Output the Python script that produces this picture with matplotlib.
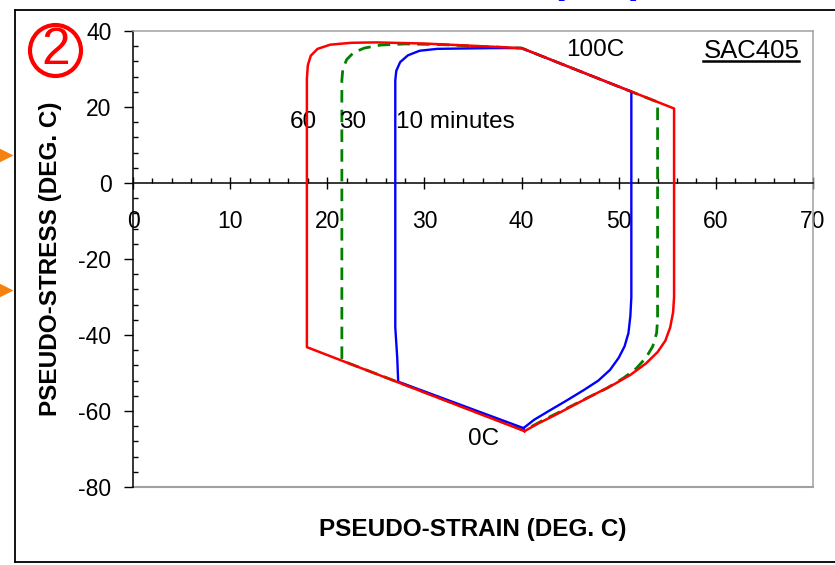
import numpy as np
import matplotlib
matplotlib.use("Agg")
from matplotlib import pyplot as plt
from matplotlib.lines import Line2D
from matplotlib.patches import Ellipse
from matplotlib.ticker import MultipleLocator

plt.rcParams['font.family'] = ['Liberation Sans', 'DejaVu Sans']
plt.rcParams['axes.unicode_minus'] = False

# hysteresis loops for the three dwell times (pseudo-strain, pseudo-stress)
red_x = [40.3, 17.9, 17.9, 18.0, 18.3, 19.0, 20.3, 22.5, 25.0, 30.0, 35.0, 40.0,
         55.7, 55.7, 55.6, 55.3, 54.8, 54.0, 52.8, 51.2, 49.5, 47.6, 45.5, 43.5, 41.7, 40.3]
red_y = [-65.3, -43.2, 27.5, 31.0, 33.5, 35.3, 36.4, 36.9, 37.0, 36.7, 36.1, 35.5,
         19.6, -30.0, -34.0, -38.0, -41.5, -44.5, -47.5, -50.5, -53.0, -55.5, -58.3, -61.0, -63.3, -65.3]

green_x = [40.3, 21.5, 21.5, 21.6, 22.0, 22.7, 23.8, 25.5, 28.0, 32.0, 36.0, 40.0,
           54.0, 54.0, 53.9, 53.5, 52.8, 51.8, 50.5, 48.8, 46.8, 44.5, 42.3, 40.3]
green_y = [-65.1, -46.75, 27.0, 30.0, 32.5, 34.3, 35.5, 36.3, 36.6, 36.4, 35.9, 35.5,
           21.3, -36.0, -39.5, -43.0, -46.0, -48.8, -51.3, -54.0, -56.5, -59.5, -62.3, -65.1]

blue_x = [40.2, 27.3, 27.2, 27.0, 27.0, 27.1, 27.5, 28.3, 29.5, 31.3, 34.0, 37.0, 40.0,
          51.3, 51.3, 51.2, 51.0, 50.6, 50.0, 49.1, 47.9, 46.4, 44.6, 42.8, 41.3, 40.2]
blue_y = [-64.5, -52.3, -46.0, -38.0, 27.0, 29.5, 31.8, 33.6, 34.8, 35.3, 35.4, 35.5, 35.5,
          24.05, -30.0, -35.0, -39.5, -43.0, -46.0, -49.2, -52.0, -54.5, -57.3, -60.0, -62.3, -64.5]

W, H = 835, 565
fig = plt.figure(figsize=(W / 100, H / 100), dpi=100)
ax = fig.add_axes([133 / W, 1 - 487 / H, 680 / W, 456 / H])

ax.plot(green_x, green_y, color='#008000', lw=2.0, linestyle=(0, (4.5, 2.6)), zorder=3)
ax.plot(blue_x, blue_y, color='#0000ff', lw=1.7, zorder=4)
ax.plot(red_x, red_y, color='#ff0000', lw=1.8, zorder=5)

ax.set_xlim(0, 70)
ax.set_ylim(-80, 40)

# frame: black y axis, x axis through zero, grey box
gray = '#a0a0a0'
ax.spines['bottom'].set_position(('data', 0))
ax.spines['bottom'].set_color('black')
ax.spines['left'].set_color('black')
ax.spines['top'].set_color(gray)
ax.spines['right'].set_color(gray)
for s in ax.spines.values():
    s.set_linewidth(1.1)
ax.axhline(-80, color=gray, lw=1.5, clip_on=False, zorder=1)

ax.xaxis.set_major_locator(MultipleLocator(10))
ax.xaxis.set_minor_locator(MultipleLocator(2))
ax.yaxis.set_major_locator(MultipleLocator(20))
ax.yaxis.set_minor_locator(MultipleLocator(4))
ax.tick_params(axis='x', which='major', direction='inout', length=8.5, width=1, pad=15, labelsize=16.5)
ax.tick_params(axis='x', which='minor', direction='in', length=3.6, width=1)
ax.tick_params(axis='y', which='major', direction='out', length=6.5, width=1, pad=9, labelsize=16.5)
ax.tick_params(axis='y', which='minor', direction='in', length=3.6, width=1)

ax.set_xlabel('PSEUDO-STRAIN (DEG. C)', fontsize=17.5, fontweight='bold')
ax.set_ylabel('PSEUDO-STRESS (DEG. C)', fontsize=17.5, fontweight='bold')
ax.xaxis.set_label_coords(0.5, -0.068)
ax.yaxis.set_label_coords(-0.104, 0.5)

ax.text(47.6, 35.0, '100C', fontsize=17.5, ha='center', va='center')
ax.text(36.1, -67.4, '0C', fontsize=17.5, ha='center', va='center')
ax.text(17.5, 16.0, '60', fontsize=17.5, ha='center', va='center')
ax.text(22.6, 16.0, '30', fontsize=17.5, ha='center', va='center')
ax.text(27.1, 16.0, '10 minutes', fontsize=17.5, ha='left', va='center')
sac = ax.text(63.65, 34.7, 'SAC405', fontsize=18.5, ha='center', va='center')

# underline for the alloy name
fig.canvas.draw()
bb = sac.get_window_extent()
fig.add_artist(Line2D([bb.x0 / W, bb.x1 / W], [(bb.y0 + 2) / H] * 2,
                      color='black', lw=1.8, transform=fig.transFigure))

# circled number
fig.add_artist(Ellipse((55.5 / W, 1 - 50.5 / H), 51 / W, 51 / H, transform=fig.transFigure,
                       fill=False, edgecolor='#ff0000', lw=3.0))
fig.text(55.5 / W, 1 - 51 / H, '2', color='#ff0000', fontsize=37,
         ha='center', va='center')

# slide frame and side markers
k = dict(color='black', lw=1.3, transform=fig.transFigure)
fig.add_artist(Line2D([15 / W, 1], [1 - 10 / H] * 2, **k))
fig.add_artist(Line2D([15 / W] * 2, [1 - 10 / H, 1 - 562 / H], **k))
fig.add_artist(Line2D([15 / W, 1], [1 - 562 / H] * 2, **k))
for yp in (155, 290):
    fig.add_artist(Line2D([0], [1 - yp / H], marker='>', ms=19, color='#f5820f',
                          mec='none', transform=fig.transFigure))

# bottom of the blue caption brackets above the frame
fig.text(558 / W, 1 + 8 / H, '(', color='#0000ff', fontsize=30, fontweight='bold',
         ha='center', va='baseline')
fig.text(637 / W, 1 + 8 / H, ')', color='#0000ff', fontsize=30, fontweight='bold',
         ha='center', va='baseline')

fig.savefig('out.png', dpi=100)
